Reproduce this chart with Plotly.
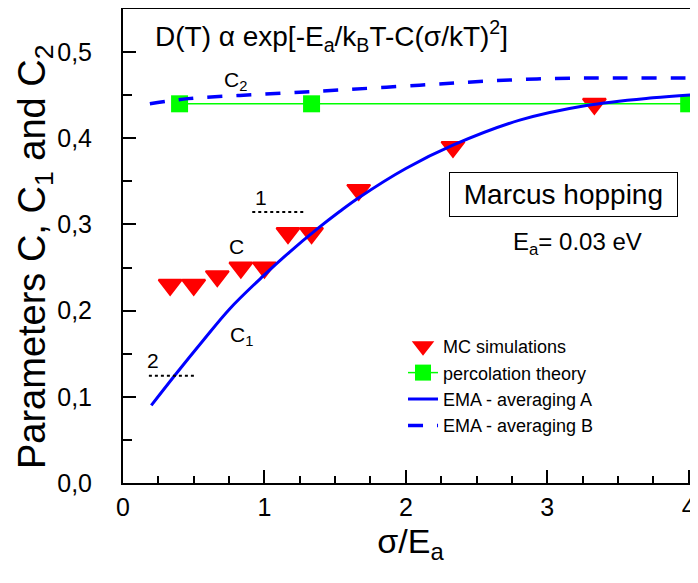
import plotly.graph_objects as go

# ---- data ----
mc_x = [1/3, 1/2, 2/3, 5/6, 1.0, 7/6, 4/3, 5/3, 7/3, 10/3]
mc_y = [0.23, 0.23, 0.24, 0.25, 0.25, 0.29, 0.29, 0.34, 0.39, 0.44]

perc_x = [0.4, 4/3, 4.0]
perc_y = [0.44, 0.44, 0.44]

emaA_x = [0.2, 0.377, 0.565, 0.754, 0.99, 1.178, 1.367, 1.532, 1.667, 2.0, 2.333, 2.805, 3.276, 3.747, 4.07]
emaA_y = [0.09, 0.127, 0.165, 0.202, 0.240, 0.268, 0.294, 0.315, 0.331, 0.365, 0.392, 0.421, 0.438, 0.447, 0.451]

emaB_x = [0.19, 0.459, 0.825, 1.248, 1.53, 2.097, 2.57, 3.04, 3.51, 4.07]
emaB_y = [0.440, 0.446, 0.4497, 0.4535, 0.456, 0.4616, 0.4663, 0.4694, 0.470, 0.470]

x_tickvals = [0, 1, 2, 3, 4]
x_ticktext = ["0", "1", "2", "3", "4"]
y_tickvals = [0.0, 0.1, 0.2, 0.3, 0.4, 0.5]
y_ticktext = ["0,0", "0,1", "0,2", "0,3", "0,4", "0,5"]

FONT = "Liberation Sans, Arial, sans-serif"

fig = go.Figure()

fig.add_trace(go.Scatter(
    x=mc_x, y=mc_y, mode="markers", name="MC simulations",
    marker=dict(symbol="triangle-down", size=20, color="#FF0000",
                line=dict(color="#FF0000", width=2)),
))
fig.add_trace(go.Scatter(
    x=perc_x, y=perc_y, mode="lines+markers", name="percolation theory",
    line=dict(color="#00FF00", width=1.5),
    marker=dict(symbol="square", size=17, color="#00FF00"),
))
fig.add_trace(go.Scatter(
    x=emaA_x, y=emaA_y, mode="lines", name="EMA - averaging A",
    line=dict(color="#0000FF", width=3, shape="spline"),
))
fig.add_trace(go.Scatter(
    x=emaB_x, y=emaB_y, mode="lines", name="EMA - averaging B",
    line=dict(color="#0000FF", width=3.5, dash="15px,14px", shape="spline"),
))

# dotted reference marks "1" and "2"
fig.add_shape(type="line", x0=0.914, x1=1.284, y0=0.3144, y1=0.3144,
              line=dict(color="black", width=2, dash="dot"))
fig.add_shape(type="line", x0=0.183, x1=0.513, y0=0.1244, y1=0.1244,
              line=dict(color="black", width=2, dash="dot"))

ann = []
ann.append(dict(x=0.215, y=0.519, xref="x", yref="y", xanchor="left", yanchor="middle",
                text="D(T) α exp[-E<sub>a</sub>/k<sub>B</sub>T-C(σ/kT)<sup>2</sup>]",
                showarrow=False, font=dict(size=28, color="black", family=FONT)))
ann.append(dict(x=0.70, y=0.466, xref="x", yref="y", xanchor="left", yanchor="middle",
                text="C<sub>2</sub>", showarrow=False,
                font=dict(size=21, color="black", family=FONT)))
ann.append(dict(x=0.735, y=0.274, xref="x", yref="y", xanchor="left", yanchor="middle",
                text="C", showarrow=False,
                font=dict(size=21, color="black", family=FONT)))
ann.append(dict(x=0.74, y=0.171, xref="x", yref="y", xanchor="left", yanchor="middle",
                text="C<sub>1</sub>", showarrow=False,
                font=dict(size=21, color="black", family=FONT)))
ann.append(dict(x=0.978, y=0.331, xref="x", yref="y", xanchor="center", yanchor="middle",
                text="1", showarrow=False,
                font=dict(size=21, color="black", family=FONT)))
ann.append(dict(x=0.211, y=0.1427, xref="x", yref="y", xanchor="center", yanchor="middle",
                text="2", showarrow=False,
                font=dict(size=21, color="black", family=FONT)))
ann.append(dict(x=3.116, y=0.3345, xref="x", yref="y", xanchor="center", yanchor="middle",
                text="&nbsp;Marcus hopping&nbsp;", showarrow=False,
                font=dict(size=28, color="black", family=FONT),
                bordercolor="black", borderwidth=1, borderpad=6, bgcolor="white"))
ann.append(dict(x=3.215, y=0.278, xref="x", yref="y", xanchor="center", yanchor="middle",
                text="E<sub>a</sub>= 0.03 eV", showarrow=False,
                font=dict(size=24, color="black", family=FONT)))
# y-axis title
ann.append(dict(x=-0.152, y=0.478, xref="paper", yref="paper", xanchor="center", yanchor="middle",
                text="Parameters C, C<sub>1</sub> and C<sub>2</sub>", textangle=-90,
                showarrow=False, font=dict(size=38, color="black", family=FONT)))

# the page body adds an 8px offset, so the figure is sized to fill the window from there
fig.update_layout(
    width=690, height=575,
    margin=dict(l=115, r=0, t=1, b=100),
    paper_bgcolor="white", plot_bgcolor="white",
    font=dict(family=FONT, color="black"),
    showlegend=True,
    legend=dict(x=0.487, y=0.327, xanchor="left", yanchor="top",
                bgcolor="rgba(0,0,0,0)", font=dict(size=18, family=FONT, color="black"),
                itemwidth=30),
    annotations=ann,
)

fig.update_xaxes(
    automargin=False,
    range=[0, 4.066], showgrid=False, zeroline=False,
    showline=True, linecolor="black", linewidth=2, mirror=True,
    ticks="inside", ticklen=13, tickwidth=2, tickcolor="black",
    tickvals=x_tickvals, ticktext=x_ticktext,
    tickfont=dict(size=25, family=FONT, color="black"),
    ticklabelstandoff=1,
    minor=dict(dtick=0.25, tick0=0, ticks="inside", ticklen=7, tickwidth=2, tickcolor="black"),
    title=dict(text="σ/E<sub>a</sub>", font=dict(size=34, family=FONT, color="black"), standoff=9),
)
fig.update_yaxes(
    automargin=False,
    range=[0, 0.55], showgrid=False, zeroline=False,
    showline=True, linecolor="black", linewidth=2, mirror=False,
    ticks="inside", ticklen=13, tickwidth=2, tickcolor="black",
    tickvals=y_tickvals, ticktext=y_ticktext,
    tickfont=dict(size=25, family=FONT, color="black"),
    ticklabelstandoff=24,
    minor=dict(dtick=0.05, tick0=0, ticks="inside", ticklen=9, tickwidth=2, tickcolor="black"),
)

fig.write_html("out.html")
